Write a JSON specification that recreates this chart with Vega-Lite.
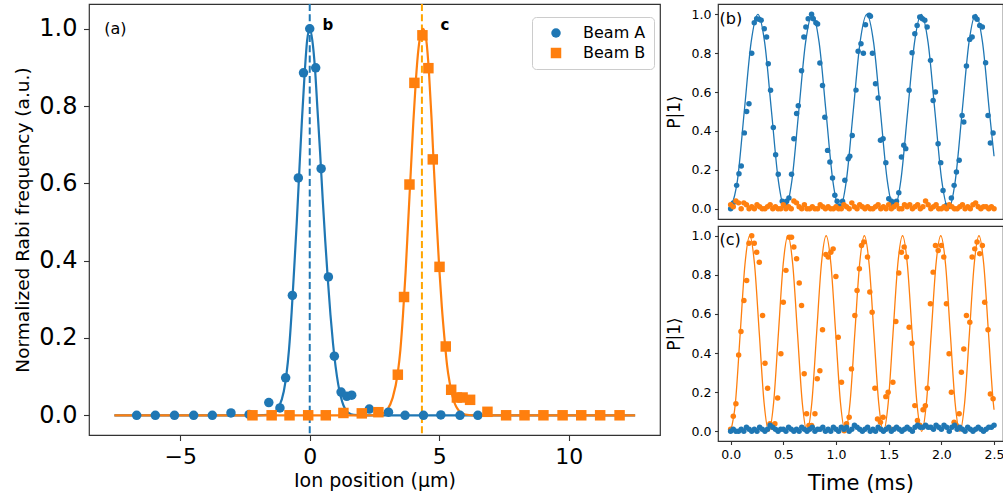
{
  "$schema": "https://vega.github.io/schema/vega-lite/v6.json",
  "padding": {"left": 13, "top": 2, "right": 0, "bottom": 0},
  "background": "white",
  "config": {
    "font": "DejaVu Sans",
    "view": {"stroke": "#333333", "strokeWidth": 1.2},
    "axis": {"grid": false, "domain": false, "tickColor": "#333333", "tickWidth": 1.1, "labelColor": "#000000", "titleColor": "#000000", "titleFontWeight": "normal", "labelFont": "DejaVu Sans", "titleFont": "DejaVu Sans"},
    "legend": {"labelFont": "DejaVu Sans"}
  },
  "datasets": {
    "aPts": [
      {"x": -6.68, "y": 0, "beam": "Beam A"}, {"x": -5.96, "y": 0, "beam": "Beam A"}, {"x": -5.22, "y": 0, "beam": "Beam A"},
      {"x": -4.48, "y": 0, "beam": "Beam A"}, {"x": -3.76, "y": 0, "beam": "Beam A"}, {"x": -3.04, "y": 0.006, "beam": "Beam A"},
      {"x": -2.34, "y": 0.002, "beam": "Beam A"}, {"x": -1.58, "y": 0.033, "beam": "Beam A"}, {"x": -1.15, "y": 0.019, "beam": "Beam A"},
      {"x": -0.93, "y": 0.097, "beam": "Beam A"}, {"x": -0.67, "y": 0.31, "beam": "Beam A"}, {"x": -0.44, "y": 0.614, "beam": "Beam A"},
      {"x": -0.24, "y": 0.886, "beam": "Beam A"}, {"x": 0.0, "y": 1.0, "beam": "Beam A"}, {"x": 0.23, "y": 0.899, "beam": "Beam A"},
      {"x": 0.44, "y": 0.638, "beam": "Beam A"}, {"x": 0.72, "y": 0.358, "beam": "Beam A"}, {"x": 0.95, "y": 0.153, "beam": "Beam A"},
      {"x": 1.21, "y": 0.06, "beam": "Beam A"}, {"x": 1.43, "y": 0.049, "beam": "Beam A"}, {"x": 1.62, "y": 0.052, "beam": "Beam A"},
      {"x": 2.3, "y": 0.016, "beam": "Beam A"}, {"x": 3.04, "y": 0.008, "beam": "Beam A"}, {"x": 3.68, "y": 0, "beam": "Beam A"},
      {"x": 4.39, "y": 0, "beam": "Beam A"}, {"x": 5.06, "y": 0.001, "beam": "Beam A"}, {"x": 5.8, "y": 0, "beam": "Beam A"},
      {"x": 6.49, "y": 0, "beam": "Beam A"},
      {"x": -2.21, "y": 0, "beam": "Beam B"}, {"x": -1.47, "y": 0, "beam": "Beam B"}, {"x": -0.78, "y": 0, "beam": "Beam B"},
      {"x": -0.06, "y": 0, "beam": "Beam B"}, {"x": 0.62, "y": 0, "beam": "Beam B"}, {"x": 1.3, "y": 0.006, "beam": "Beam B"},
      {"x": 2.01, "y": 0.005, "beam": "Beam B"}, {"x": 2.65, "y": 0.008, "beam": "Beam B"}, {"x": 3.4, "y": 0.105, "beam": "Beam B"},
      {"x": 3.64, "y": 0.306, "beam": "Beam B"}, {"x": 3.85, "y": 0.597, "beam": "Beam B"}, {"x": 4.04, "y": 0.86, "beam": "Beam B"},
      {"x": 4.35, "y": 0.983, "beam": "Beam B"}, {"x": 4.58, "y": 0.898, "beam": "Beam B"}, {"x": 4.75, "y": 0.662, "beam": "Beam B"},
      {"x": 5.01, "y": 0.384, "beam": "Beam B"}, {"x": 5.25, "y": 0.178, "beam": "Beam B"}, {"x": 5.46, "y": 0.066, "beam": "Beam B"},
      {"x": 5.68, "y": 0.046, "beam": "Beam B"}, {"x": 5.9, "y": 0.046, "beam": "Beam B"}, {"x": 6.19, "y": 0.04, "beam": "Beam B"},
      {"x": 6.86, "y": 0.009, "beam": "Beam B"}, {"x": 7.58, "y": 0, "beam": "Beam B"}, {"x": 8.29, "y": 0, "beam": "Beam B"},
      {"x": 9.02, "y": 0, "beam": "Beam B"}, {"x": 9.76, "y": 0, "beam": "Beam B"}, {"x": 10.48, "y": 0, "beam": "Beam B"},
      {"x": 11.21, "y": 0, "beam": "Beam B"}, {"x": 11.96, "y": 0, "beam": "Beam B"}
    ],
    "fitA": [
      {"x": -7.54, "y": 0}, {"x": -2.0, "y": 0}, {"x": -1.6, "y": 0.001}, {"x": -1.4, "y": 0.006}, {"x": -1.2, "y": 0.02},
      {"x": -1.0, "y": 0.062}, {"x": -0.9, "y": 0.105}, {"x": -0.8, "y": 0.17}, {"x": -0.7, "y": 0.265}, {"x": -0.6, "y": 0.38},
      {"x": -0.5, "y": 0.5}, {"x": -0.4, "y": 0.635}, {"x": -0.3, "y": 0.765}, {"x": -0.2, "y": 0.88}, {"x": -0.1, "y": 0.97},
      {"x": 0.0, "y": 1.0}, {"x": 0.1, "y": 0.97}, {"x": 0.2, "y": 0.9}, {"x": 0.3, "y": 0.79}, {"x": 0.4, "y": 0.68},
      {"x": 0.5, "y": 0.56}, {"x": 0.6, "y": 0.45}, {"x": 0.7, "y": 0.35}, {"x": 0.8, "y": 0.26}, {"x": 0.9, "y": 0.185},
      {"x": 1.0, "y": 0.125}, {"x": 1.1, "y": 0.08}, {"x": 1.2, "y": 0.048}, {"x": 1.3, "y": 0.026}, {"x": 1.4, "y": 0.013},
      {"x": 1.5, "y": 0.006}, {"x": 1.7, "y": 0.001}, {"x": 2.0, "y": 0}, {"x": 12.56, "y": 0}
    ],
    "fitB": [
      {"x": -7.54, "y": 0}, {"x": 2.6, "y": 0}, {"x": 2.8, "y": 0.004}, {"x": 3.0, "y": 0.015}, {"x": 3.2, "y": 0.045},
      {"x": 3.4, "y": 0.11}, {"x": 3.5, "y": 0.17}, {"x": 3.6, "y": 0.26}, {"x": 3.7, "y": 0.37}, {"x": 3.8, "y": 0.5},
      {"x": 3.9, "y": 0.63}, {"x": 4.0, "y": 0.76}, {"x": 4.1, "y": 0.87}, {"x": 4.2, "y": 0.95}, {"x": 4.3, "y": 0.99},
      {"x": 4.38, "y": 1.0}, {"x": 4.5, "y": 0.97}, {"x": 4.6, "y": 0.89}, {"x": 4.7, "y": 0.77}, {"x": 4.8, "y": 0.63},
      {"x": 4.9, "y": 0.5}, {"x": 5.0, "y": 0.38}, {"x": 5.1, "y": 0.28}, {"x": 5.2, "y": 0.2}, {"x": 5.3, "y": 0.13},
      {"x": 5.4, "y": 0.085}, {"x": 5.5, "y": 0.052}, {"x": 5.6, "y": 0.03}, {"x": 5.7, "y": 0.017}, {"x": 5.8, "y": 0.009},
      {"x": 6.0, "y": 0.002}, {"x": 6.3, "y": 0}, {"x": 12.56, "y": 0}
    ],
    "bFit": [
      {"t": 0, "p": 0}, {"t": 0.0646, "p": 0.146}, {"t": 0.1293, "p": 0.5}, {"t": 0.1939, "p": 0.854}, {"t": 0.2585, "p": 1},
      {"t": 0.3231, "p": 0.854}, {"t": 0.3878, "p": 0.5}, {"t": 0.4524, "p": 0.146}, {"t": 0.517, "p": 0},
      {"t": 0.5816, "p": 0.146}, {"t": 0.6463, "p": 0.5}, {"t": 0.7109, "p": 0.854}, {"t": 0.7755, "p": 1},
      {"t": 0.8401, "p": 0.854}, {"t": 0.9048, "p": 0.5}, {"t": 0.9694, "p": 0.146}, {"t": 1.034, "p": 0},
      {"t": 1.0986, "p": 0.146}, {"t": 1.1633, "p": 0.5}, {"t": 1.2279, "p": 0.854}, {"t": 1.2925, "p": 1},
      {"t": 1.3571, "p": 0.854}, {"t": 1.4218, "p": 0.5}, {"t": 1.4864, "p": 0.146}, {"t": 1.551, "p": 0},
      {"t": 1.6156, "p": 0.146}, {"t": 1.6803, "p": 0.5}, {"t": 1.7449, "p": 0.854}, {"t": 1.8095, "p": 1},
      {"t": 1.8741, "p": 0.854}, {"t": 1.9388, "p": 0.5}, {"t": 2.0034, "p": 0.146}, {"t": 2.068, "p": 0},
      {"t": 2.1326, "p": 0.146}, {"t": 2.1973, "p": 0.5}, {"t": 2.2619, "p": 0.854}, {"t": 2.3265, "p": 1},
      {"t": 2.3911, "p": 0.854}, {"t": 2.4558, "p": 0.5}, {"t": 2.5, "p": 0.27}
    ],
    "bData": [
      {"t": 0, "p": 0}, {"t": 0.025, "p": 0.03}, {"t": 0.057, "p": 0.12}, {"t": 0.079, "p": 0.18}, {"t": 0.101, "p": 0.22},
      {"t": 0.13, "p": 0.39}, {"t": 0.152, "p": 0.5}, {"t": 0.174, "p": 0.54}, {"t": 0.2, "p": 0.8}, {"t": 0.224, "p": 0.957},
      {"t": 0.247, "p": 0.977}, {"t": 0.27, "p": 0.975}, {"t": 0.29, "p": 0.97}, {"t": 0.319, "p": 0.926}, {"t": 0.341, "p": 0.883},
      {"t": 0.357, "p": 0.746}, {"t": 0.379, "p": 0.609}, {"t": 0.405, "p": 0.418}, {"t": 0.427, "p": 0.278}, {"t": 0.452, "p": 0.177},
      {"t": 0.49, "p": 0.038}, {"t": 0.509, "p": 0.026}, {"t": 0.531, "p": 0.038}, {"t": 0.553, "p": 0.055}, {"t": 0.578, "p": 0.177},
      {"t": 0.6, "p": 0.36}, {"t": 0.626, "p": 0.49}, {"t": 0.642, "p": 0.53}, {"t": 0.673, "p": 0.71}, {"t": 0.695, "p": 0.883},
      {"t": 0.714, "p": 0.935}, {"t": 0.736, "p": 0.977}, {"t": 0.768, "p": 1.0}, {"t": 0.784, "p": 0.977}, {"t": 0.809, "p": 0.957},
      {"t": 0.825, "p": 0.95}, {"t": 0.847, "p": 0.749}, {"t": 0.872, "p": 0.634}, {"t": 0.894, "p": 0.47}, {"t": 0.92, "p": 0.3},
      {"t": 0.942, "p": 0.24}, {"t": 0.967, "p": 0.158}, {"t": 0.989, "p": 0.069}, {"t": 1.011, "p": 0.038}, {"t": 1.037, "p": 0.014},
      {"t": 1.062, "p": 0.038}, {"t": 1.084, "p": 0.146}, {"t": 1.116, "p": 0.257}, {"t": 1.131, "p": 0.27}, {"t": 1.154, "p": 0.377},
      {"t": 1.19, "p": 0.61}, {"t": 1.21, "p": 0.81}, {"t": 1.237, "p": 0.849}, {"t": 1.26, "p": 0.8}, {"t": 1.28, "p": 0.946},
      {"t": 1.315, "p": 0.995}, {"t": 1.327, "p": 0.99}, {"t": 1.346, "p": 0.8}, {"t": 1.375, "p": 0.643}, {"t": 1.4, "p": 0.569},
      {"t": 1.422, "p": 0.352}, {"t": 1.447, "p": 0.36}, {"t": 1.473, "p": 0.237}, {"t": 1.501, "p": 0.051}, {"t": 1.527, "p": 0.038},
      {"t": 1.549, "p": 0.017}, {"t": 1.574, "p": 0.038}, {"t": 1.596, "p": 0.082}, {"t": 1.621, "p": 0.266}, {"t": 1.643, "p": 0.326},
      {"t": 1.662, "p": 0.309}, {"t": 1.694, "p": 0.609}, {"t": 1.722, "p": 0.802}, {"t": 1.748, "p": 0.9}, {"t": 1.77, "p": 0.943},
      {"t": 1.795, "p": 0.986}, {"t": 1.82, "p": 0.977}, {"t": 1.843, "p": 0.969}, {"t": 1.865, "p": 0.935}, {"t": 1.897, "p": 0.763},
      {"t": 1.922, "p": 0.557}, {"t": 1.944, "p": 0.6}, {"t": 1.969, "p": 0.334}, {"t": 1.994, "p": 0.237}, {"t": 2.016, "p": 0.094},
      {"t": 2.048, "p": 0.017}, {"t": 2.073, "p": 0.014}, {"t": 2.095, "p": 0.055}, {"t": 2.121, "p": 0.12}, {"t": 2.143, "p": 0.189},
      {"t": 2.169, "p": 0.249}, {"t": 2.197, "p": 0.48}, {"t": 2.213, "p": 0.446}, {"t": 2.238, "p": 0.734}, {"t": 2.269, "p": 0.871},
      {"t": 2.292, "p": 0.883}, {"t": 2.317, "p": 0.986}, {"t": 2.339, "p": 0.974}, {"t": 2.364, "p": 0.943}, {"t": 2.389, "p": 0.935},
      {"t": 2.42, "p": 0.751}, {"t": 2.443, "p": 0.48}, {"t": 2.465, "p": 0.338}, {"t": 2.491, "p": 0.389}
    ],
    "bNoise": [
      {"t": 0, "p": 0.02}, {"t": 0.025, "p": 0.01}, {"t": 0.05, "p": 0.04}, {"t": 0.075, "p": 0.03}, {"t": 0.1, "p": 0.0},
      {"t": 0.125, "p": 0.03}, {"t": 0.15, "p": 0.02}, {"t": 0.175, "p": 0.0}, {"t": 0.2, "p": 0.01}, {"t": 0.225, "p": 0.0},
      {"t": 0.25, "p": 0.02}, {"t": 0.275, "p": 0.01}, {"t": 0.3, "p": 0.0}, {"t": 0.325, "p": 0.0}, {"t": 0.35, "p": 0.01},
      {"t": 0.375, "p": 0.02}, {"t": 0.4, "p": 0.0}, {"t": 0.425, "p": 0.01}, {"t": 0.45, "p": 0.0}, {"t": 0.475, "p": 0.0},
      {"t": 0.5, "p": 0.02}, {"t": 0.525, "p": 0.0}, {"t": 0.55, "p": 0.01}, {"t": 0.575, "p": 0.0}, {"t": 0.6, "p": 0.04},
      {"t": 0.625, "p": 0.03}, {"t": 0.65, "p": 0.01}, {"t": 0.675, "p": 0.0}, {"t": 0.7, "p": 0.02}, {"t": 0.725, "p": 0.0},
      {"t": 0.75, "p": 0.0}, {"t": 0.775, "p": 0.01}, {"t": 0.8, "p": 0.0}, {"t": 0.825, "p": 0.0}, {"t": 0.85, "p": 0.02},
      {"t": 0.875, "p": 0.01}, {"t": 0.9, "p": 0.0}, {"t": 0.925, "p": 0.01}, {"t": 0.95, "p": 0.0}, {"t": 0.975, "p": 0.0},
      {"t": 1.0, "p": 0.01}, {"t": 1.025, "p": 0.0}, {"t": 1.05, "p": 0.0}, {"t": 1.075, "p": 0.02}, {"t": 1.1, "p": 0.01},
      {"t": 1.125, "p": 0.0}, {"t": 1.15, "p": 0.03}, {"t": 1.175, "p": 0.01}, {"t": 1.2, "p": 0.0}, {"t": 1.225, "p": 0.02},
      {"t": 1.25, "p": 0.01}, {"t": 1.275, "p": 0.0}, {"t": 1.3, "p": 0.01}, {"t": 1.325, "p": 0.0}, {"t": 1.35, "p": 0.0},
      {"t": 1.375, "p": 0.01}, {"t": 1.4, "p": 0.02}, {"t": 1.425, "p": 0.0}, {"t": 1.45, "p": 0.01}, {"t": 1.475, "p": 0.0},
      {"t": 1.5, "p": 0.02}, {"t": 1.525, "p": 0.0}, {"t": 1.55, "p": 0.01}, {"t": 1.575, "p": 0.02}, {"t": 1.6, "p": 0.0},
      {"t": 1.625, "p": 0.0}, {"t": 1.65, "p": 0.02}, {"t": 1.675, "p": 0.01}, {"t": 1.7, "p": 0.02}, {"t": 1.725, "p": 0.0},
      {"t": 1.75, "p": 0.01}, {"t": 1.775, "p": 0.02}, {"t": 1.8, "p": 0.0}, {"t": 1.825, "p": 0.01}, {"t": 1.85, "p": 0.04},
      {"t": 1.875, "p": 0.02}, {"t": 1.9, "p": 0.0}, {"t": 1.925, "p": 0.01}, {"t": 1.95, "p": 0.02}, {"t": 1.975, "p": 0.0},
      {"t": 2.0, "p": 0.0}, {"t": 2.025, "p": 0.01}, {"t": 2.05, "p": 0.0}, {"t": 2.075, "p": 0.02}, {"t": 2.1, "p": 0.01},
      {"t": 2.125, "p": 0.0}, {"t": 2.15, "p": 0.0}, {"t": 2.175, "p": 0.01}, {"t": 2.2, "p": 0.02}, {"t": 2.225, "p": 0.0},
      {"t": 2.25, "p": 0.01}, {"t": 2.275, "p": 0.0}, {"t": 2.3, "p": 0.02}, {"t": 2.325, "p": 0.03}, {"t": 2.35, "p": 0.01},
      {"t": 2.375, "p": 0.0}, {"t": 2.4, "p": 0.01}, {"t": 2.425, "p": 0.01}, {"t": 2.45, "p": 0.0}, {"t": 2.475, "p": 0.01},
      {"t": 2.5, "p": 0.0}
    ],
    "cFit": [
      {"t": 0, "p": 0}, {"t": 0.0453, "p": 0.146}, {"t": 0.0907, "p": 0.5}, {"t": 0.136, "p": 0.854}, {"t": 0.1813, "p": 1},
      {"t": 0.2266, "p": 0.854}, {"t": 0.272, "p": 0.5}, {"t": 0.3173, "p": 0.146}, {"t": 0.3626, "p": 0},
      {"t": 0.4079, "p": 0.146}, {"t": 0.4533, "p": 0.5}, {"t": 0.4986, "p": 0.854}, {"t": 0.5439, "p": 1},
      {"t": 0.5892, "p": 0.854}, {"t": 0.6346, "p": 0.5}, {"t": 0.6799, "p": 0.146}, {"t": 0.7252, "p": 0},
      {"t": 0.7705, "p": 0.146}, {"t": 0.8159, "p": 0.5}, {"t": 0.8612, "p": 0.854}, {"t": 0.9065, "p": 1},
      {"t": 0.9518, "p": 0.854}, {"t": 0.9972, "p": 0.5}, {"t": 1.0425, "p": 0.146}, {"t": 1.0878, "p": 0},
      {"t": 1.1331, "p": 0.146}, {"t": 1.1785, "p": 0.5}, {"t": 1.2238, "p": 0.854}, {"t": 1.2691, "p": 1},
      {"t": 1.3144, "p": 0.854}, {"t": 1.3598, "p": 0.5}, {"t": 1.4051, "p": 0.146}, {"t": 1.4504, "p": 0},
      {"t": 1.4957, "p": 0.146}, {"t": 1.5411, "p": 0.5}, {"t": 1.5864, "p": 0.854}, {"t": 1.6317, "p": 1},
      {"t": 1.677, "p": 0.854}, {"t": 1.7224, "p": 0.5}, {"t": 1.7677, "p": 0.146}, {"t": 1.813, "p": 0},
      {"t": 1.8583, "p": 0.146}, {"t": 1.9037, "p": 0.5}, {"t": 1.949, "p": 0.854}, {"t": 1.9943, "p": 1},
      {"t": 2.0396, "p": 0.854}, {"t": 2.085, "p": 0.5}, {"t": 2.1303, "p": 0.146}, {"t": 2.1756, "p": 0},
      {"t": 2.2209, "p": 0.146}, {"t": 2.2663, "p": 0.5}, {"t": 2.3116, "p": 0.854}, {"t": 2.3569, "p": 1},
      {"t": 2.4022, "p": 0.854}, {"t": 2.4476, "p": 0.5}, {"t": 2.4929, "p": 0.146}, {"t": 2.5, "p": 0.11}
    ],
    "cData": [
      {"t": 0, "p": 0.01}, {"t": 0.025, "p": 0.077}, {"t": 0.05, "p": 0.14}, {"t": 0.076, "p": 0.39}, {"t": 0.098, "p": 0.51},
      {"t": 0.126, "p": 0.669}, {"t": 0.152, "p": 0.771}, {"t": 0.174, "p": 0.962}, {"t": 0.2, "p": 1.0}, {"t": 0.224, "p": 0.962},
      {"t": 0.247, "p": 0.916}, {"t": 0.272, "p": 0.865}, {"t": 0.303, "p": 0.592}, {"t": 0.326, "p": 0.348}, {"t": 0.351, "p": 0.22},
      {"t": 0.373, "p": 0.038}, {"t": 0.395, "p": 0.02}, {"t": 0.42, "p": 0.038}, {"t": 0.446, "p": 0.17}, {"t": 0.477, "p": 0.396},
      {"t": 0.5, "p": 0.66}, {"t": 0.525, "p": 0.823}, {"t": 0.556, "p": 0.993}, {"t": 0.578, "p": 0.993}, {"t": 0.6, "p": 0.942},
      {"t": 0.626, "p": 0.882}, {"t": 0.651, "p": 0.758}, {"t": 0.673, "p": 0.643}, {"t": 0.698, "p": 0.294}, {"t": 0.721, "p": 0.089},
      {"t": 0.743, "p": 0.029}, {"t": 0.768, "p": 0.029}, {"t": 0.8, "p": 0.089}, {"t": 0.822, "p": 0.268}, {"t": 0.847, "p": 0.31},
      {"t": 0.872, "p": 0.519}, {"t": 0.904, "p": 0.904}, {"t": 0.926, "p": 0.891}, {"t": 0.951, "p": 0.916}, {"t": 0.973, "p": 0.933},
      {"t": 0.999, "p": 0.792}, {"t": 1.021, "p": 0.481}, {"t": 1.052, "p": 0.251}, {"t": 1.078, "p": 0.003}, {"t": 1.1, "p": 0.038},
      {"t": 1.125, "p": 0.072}, {"t": 1.147, "p": 0.319}, {"t": 1.179, "p": 0.592}, {"t": 1.2, "p": 0.72}, {"t": 1.222, "p": 0.831},
      {"t": 1.242, "p": 0.95}, {"t": 1.264, "p": 0.968}, {"t": 1.299, "p": 0.891}, {"t": 1.321, "p": 0.712}, {"t": 1.343, "p": 0.609},
      {"t": 1.369, "p": 0.22}, {"t": 1.394, "p": 0.063}, {"t": 1.422, "p": 0.046}, {"t": 1.447, "p": 0.072}, {"t": 1.473, "p": 0.177},
      {"t": 1.495, "p": 0.2}, {"t": 1.52, "p": 0.01}, {"t": 1.54, "p": 0.25}, {"t": 1.568, "p": 0.561}, {"t": 1.596, "p": 0.809},
      {"t": 1.621, "p": 0.916}, {"t": 1.647, "p": 0.942}, {"t": 1.669, "p": 0.891}, {"t": 1.694, "p": 0.532}, {"t": 1.722, "p": 0.45},
      {"t": 1.748, "p": 0.131}, {"t": 1.773, "p": 0.055}, {"t": 1.795, "p": 0.03}, {"t": 1.826, "p": 0.11}, {"t": 1.848, "p": 0.13},
      {"t": 1.867, "p": 0.22}, {"t": 1.896, "p": 0.652}, {"t": 1.922, "p": 0.814}, {"t": 1.944, "p": 0.95}, {"t": 1.97, "p": 0.925},
      {"t": 2.0, "p": 0.95}, {"t": 2.023, "p": 0.891}, {"t": 2.048, "p": 0.652}, {"t": 2.073, "p": 0.396}, {"t": 2.095, "p": 0.2},
      {"t": 2.121, "p": 0.046}, {"t": 2.143, "p": 0.029}, {"t": 2.169, "p": 0.089}, {"t": 2.19, "p": 0.302}, {"t": 2.213, "p": 0.421},
      {"t": 2.238, "p": 0.592}, {"t": 2.27, "p": 0.558}, {"t": 2.292, "p": 0.891}, {"t": 2.317, "p": 0.933}, {"t": 2.339, "p": 0.968},
      {"t": 2.364, "p": 0.908}, {"t": 2.389, "p": 0.95}, {"t": 2.411, "p": 0.66}, {"t": 2.443, "p": 0.519}, {"t": 2.465, "p": 0.191},
      {"t": 2.491, "p": 0.166}
    ],
    "cNoise": [
      {"t": 0, "p": 0.0}, {"t": 0.025, "p": 0.01}, {"t": 0.05, "p": 0.0}, {"t": 0.075, "p": 0.0}, {"t": 0.1, "p": 0.01},
      {"t": 0.125, "p": 0.0}, {"t": 0.15, "p": 0.02}, {"t": 0.175, "p": 0.01}, {"t": 0.2, "p": 0.0}, {"t": 0.225, "p": 0.01},
      {"t": 0.25, "p": 0.0}, {"t": 0.275, "p": 0.02}, {"t": 0.3, "p": 0.01}, {"t": 0.325, "p": 0.0}, {"t": 0.35, "p": 0.01},
      {"t": 0.375, "p": 0.03}, {"t": 0.4, "p": 0.02}, {"t": 0.425, "p": 0.01}, {"t": 0.45, "p": 0.0}, {"t": 0.475, "p": 0.01},
      {"t": 0.5, "p": 0.01}, {"t": 0.525, "p": 0.0}, {"t": 0.55, "p": 0.02}, {"t": 0.575, "p": 0.01}, {"t": 0.6, "p": 0.0},
      {"t": 0.625, "p": 0.01}, {"t": 0.65, "p": 0.0}, {"t": 0.675, "p": 0.02}, {"t": 0.7, "p": 0.01}, {"t": 0.725, "p": 0.0},
      {"t": 0.75, "p": 0.01}, {"t": 0.775, "p": 0.02}, {"t": 0.8, "p": 0.0}, {"t": 0.825, "p": 0.01}, {"t": 0.85, "p": 0.01},
      {"t": 0.875, "p": 0.02}, {"t": 0.9, "p": 0.0}, {"t": 0.925, "p": 0.01}, {"t": 0.95, "p": 0.0}, {"t": 0.975, "p": 0.02},
      {"t": 1.0, "p": 0.01}, {"t": 1.025, "p": 0.0}, {"t": 1.05, "p": 0.02}, {"t": 1.075, "p": 0.01}, {"t": 1.1, "p": 0.02},
      {"t": 1.125, "p": 0.0}, {"t": 1.15, "p": 0.01}, {"t": 1.175, "p": 0.03}, {"t": 1.2, "p": 0.02}, {"t": 1.225, "p": 0.01},
      {"t": 1.25, "p": 0.0}, {"t": 1.275, "p": 0.01}, {"t": 1.3, "p": 0.02}, {"t": 1.325, "p": 0.0}, {"t": 1.35, "p": 0.01},
      {"t": 1.375, "p": 0.0}, {"t": 1.4, "p": 0.02}, {"t": 1.425, "p": 0.01}, {"t": 1.45, "p": 0.0}, {"t": 1.475, "p": 0.01},
      {"t": 1.5, "p": 0.02}, {"t": 1.525, "p": 0.0}, {"t": 1.55, "p": 0.01}, {"t": 1.575, "p": 0.02}, {"t": 1.6, "p": 0.01},
      {"t": 1.625, "p": 0.0}, {"t": 1.65, "p": 0.01}, {"t": 1.675, "p": 0.02}, {"t": 1.7, "p": 0.01}, {"t": 1.725, "p": 0.0},
      {"t": 1.75, "p": 0.02}, {"t": 1.775, "p": 0.03}, {"t": 1.8, "p": 0.02}, {"t": 1.825, "p": 0.02}, {"t": 1.85, "p": 0.03},
      {"t": 1.875, "p": 0.02}, {"t": 1.9, "p": 0.02}, {"t": 1.925, "p": 0.01}, {"t": 1.95, "p": 0.03}, {"t": 1.975, "p": 0.02},
      {"t": 2.0, "p": 0.01}, {"t": 2.025, "p": 0.03}, {"t": 2.05, "p": 0.02}, {"t": 2.075, "p": 0.0}, {"t": 2.1, "p": 0.02},
      {"t": 2.125, "p": 0.03}, {"t": 2.15, "p": 0.01}, {"t": 2.175, "p": 0.02}, {"t": 2.2, "p": 0.01}, {"t": 2.225, "p": 0.0},
      {"t": 2.25, "p": 0.02}, {"t": 2.275, "p": 0.01}, {"t": 2.3, "p": 0.0}, {"t": 2.325, "p": 0.01}, {"t": 2.35, "p": 0.02},
      {"t": 2.375, "p": 0.01}, {"t": 2.4, "p": 0.0}, {"t": 2.425, "p": 0.01}, {"t": 2.45, "p": 0.02}, {"t": 2.475, "p": 0.02},
      {"t": 2.5, "p": 0.03}
    ]
  },
  "bounds": "flush",
  "spacing": 58,
  "hconcat": [
    {
      "width": 571,
      "height": 431,
      "layer": [
        {
          "data": {"values": [{"x": 0}]},
          "mark": {"type": "rule", "color": "#1f77b4", "strokeWidth": 2, "strokeDash": [7, 3.3]},
          "encoding": {
            "x": {"field": "x", "type": "quantitative", "scale": {"domain": [-8.52, 13.52], "nice": false, "zero": false},
              "axis": {"values": [-5, 0, 5, 10], "format": "d", "title": "Ion position (μm)", "labelFontSize": 22, "titleFontSize": 19, "tickSize": 5.5, "labelPadding": 6, "titlePadding": 4}}
          }
        },
        {
          "data": {"values": [{"x": 4.33}]},
          "mark": {"type": "rule", "color": "#ffa500", "strokeWidth": 2, "strokeDash": [7, 3.3]},
          "encoding": {"x": {"field": "x", "type": "quantitative", "scale": {"domain": [-8.52, 13.52], "nice": false, "zero": false}}}
        },
        {
          "data": {"name": "fitA"},
          "mark": {"type": "line", "color": "#1f77b4", "strokeWidth": 2.2, "interpolate": "monotone"},
          "encoding": {
            "x": {"field": "x", "type": "quantitative", "scale": {"domain": [-8.52, 13.52], "nice": false, "zero": false}},
            "y": {"field": "y", "type": "quantitative", "scale": {"domain": [-0.051, 1.064], "nice": false, "zero": false},
              "axis": {"values": [0, 0.2, 0.4, 0.6, 0.8, 1.0], "format": ".1f", "title": "Normalized Rabi frequency (a.u.)", "labelFontSize": 24, "titleFontSize": 18.5, "tickSize": 5.5, "labelPadding": 6.5, "titlePadding": 6}}
          }
        },
        {
          "data": {"name": "fitB"},
          "mark": {"type": "line", "color": "#ff7f0e", "strokeWidth": 2.2, "interpolate": "monotone"},
          "encoding": {
            "x": {"field": "x", "type": "quantitative", "scale": {"domain": [-8.52, 13.52], "nice": false, "zero": false}},
            "y": {"field": "y", "type": "quantitative", "scale": {"domain": [-0.051, 1.064], "nice": false, "zero": false}}
          }
        },
        {
          "data": {"name": "aPts"},
          "mark": {"type": "point", "filled": true, "opacity": 1},
          "encoding": {
            "x": {"field": "x", "type": "quantitative", "scale": {"domain": [-8.52, 13.52], "nice": false, "zero": false}},
            "y": {"field": "y", "type": "quantitative", "scale": {"domain": [-0.051, 1.064], "nice": false, "zero": false}},
            "color": {"field": "beam", "type": "nominal", "scale": {"domain": ["Beam A", "Beam B"], "range": ["#1f77b4", "#ff7f0e"]},
              "legend": {"title": null, "orient": "none", "legendX": 443, "legendY": 13, "labelFontSize": 16, "symbolSize": 95, "padding": 8, "strokeColor": "#cccccc", "fillColor": "white", "cornerRadius": 4, "rowPadding": 4, "labelOffset": 19, "symbolOffset": 8, "symbolStrokeWidth": 0}},
            "shape": {"field": "beam", "type": "nominal", "scale": {"domain": ["Beam A", "Beam B"], "range": ["circle", "square"]},
              "legend": {"title": null, "orient": "none", "legendX": 443, "legendY": 13, "labelFontSize": 16, "symbolSize": 95, "padding": 8, "strokeColor": "#cccccc", "fillColor": "white", "cornerRadius": 4, "rowPadding": 4, "labelOffset": 19, "symbolOffset": 8, "symbolStrokeWidth": 0}},
            "size": {"field": "beam", "type": "nominal", "scale": {"domain": ["Beam A", "Beam B"], "range": [90, 110]}, "legend": null}
          }
        },
        {
          "data": {"values": [{"x": -7.93, "y": 1.0, "t": "(a)"}]},
          "mark": {"type": "text", "align": "left", "baseline": "middle", "fontSize": 16, "color": "black"},
          "encoding": {
            "x": {"field": "x", "type": "quantitative", "scale": {"domain": [-8.52, 13.52], "nice": false, "zero": false}},
            "y": {"field": "y", "type": "quantitative", "scale": {"domain": [-0.051, 1.064], "nice": false, "zero": false}},
            "text": {"field": "t"}
          }
        },
        {
          "data": {"values": [{"x": 0.49, "y": 1.01, "t": "b"}, {"x": 5.05, "y": 1.01, "t": "c"}]},
          "mark": {"type": "text", "align": "left", "baseline": "middle", "fontSize": 15, "fontWeight": "bold", "color": "black"},
          "encoding": {
            "x": {"field": "x", "type": "quantitative", "scale": {"domain": [-8.52, 13.52], "nice": false, "zero": false}},
            "y": {"field": "y", "type": "quantitative", "scale": {"domain": [-0.051, 1.064], "nice": false, "zero": false}},
            "text": {"field": "t"}
          }
        }
      ]
    },
    {
      "bounds": "flush",
      "spacing": 7,
      "vconcat": [
        {
          "width": 285,
          "height": 215,
          "layer": [
            {
              "data": {"name": "bFit"},
              "mark": {"type": "line", "color": "#1f77b4", "strokeWidth": 1.3, "interpolate": "monotone"},
              "encoding": {
                "x": {"field": "t", "type": "quantitative", "scale": {"domain": [-0.12, 2.585], "nice": false, "zero": false}, "axis": null},
                "y": {"field": "p", "type": "quantitative", "scale": {"domain": [-0.053, 1.053], "nice": false, "zero": false},
                  "axis": {"values": [0, 0.2, 0.4, 0.6, 0.8, 1.0], "format": ".1f", "title": "P|1⟩", "labelFontSize": 12.5, "titleFontSize": 17, "tickSize": 3.5, "labelPadding": 3.5, "titlePadding": 8}}
              }
            },
            {
              "data": {"name": "bData"},
              "mark": {"type": "circle", "color": "#1f77b4", "size": 30, "opacity": 1},
              "encoding": {
                "x": {"field": "t", "type": "quantitative", "scale": {"domain": [-0.12, 2.585], "nice": false, "zero": false}},
                "y": {"field": "p", "type": "quantitative", "scale": {"domain": [-0.053, 1.053], "nice": false, "zero": false}}
              }
            },
            {
              "data": {"name": "bNoise"},
              "mark": {"type": "circle", "color": "#ff7f0e", "size": 30, "opacity": 1},
              "encoding": {
                "x": {"field": "t", "type": "quantitative", "scale": {"domain": [-0.12, 2.585], "nice": false, "zero": false}},
                "y": {"field": "p", "type": "quantitative", "scale": {"domain": [-0.053, 1.053], "nice": false, "zero": false}}
              }
            },
            {
              "data": {"values": [{"t": -0.105, "p": 0.975, "s": "(b)"}]},
              "mark": {"type": "text", "align": "left", "baseline": "middle", "fontSize": 16, "color": "black"},
              "encoding": {
                "x": {"field": "t", "type": "quantitative", "scale": {"domain": [-0.12, 2.585], "nice": false, "zero": false}},
                "y": {"field": "p", "type": "quantitative", "scale": {"domain": [-0.053, 1.053], "nice": false, "zero": false}},
                "text": {"field": "s"}
              }
            }
          ]
        },
        {
          "width": 285,
          "height": 215,
          "layer": [
            {
              "data": {"name": "cFit"},
              "mark": {"type": "line", "color": "#ff7f0e", "strokeWidth": 1.3, "interpolate": "monotone"},
              "encoding": {
                "x": {"field": "t", "type": "quantitative", "scale": {"domain": [-0.12, 2.585], "nice": false, "zero": false},
                  "axis": {"values": [0, 0.5, 1.0, 1.5, 2.0, 2.5], "format": ".1f", "title": "Time (ms)", "labelFontSize": 12.5, "titleFontSize": 21, "tickSize": 3.5, "labelPadding": 3.5, "titlePadding": 12}},
                "y": {"field": "p", "type": "quantitative", "scale": {"domain": [-0.05, 1.05], "nice": false, "zero": false},
                  "axis": {"values": [0, 0.2, 0.4, 0.6, 0.8, 1.0], "format": ".1f", "title": "P|1⟩", "labelFontSize": 12.5, "titleFontSize": 17, "tickSize": 3.5, "labelPadding": 3.5, "titlePadding": 8}}
              }
            },
            {
              "data": {"name": "cData"},
              "mark": {"type": "circle", "color": "#ff7f0e", "size": 30, "opacity": 1},
              "encoding": {
                "x": {"field": "t", "type": "quantitative", "scale": {"domain": [-0.12, 2.585], "nice": false, "zero": false}},
                "y": {"field": "p", "type": "quantitative", "scale": {"domain": [-0.05, 1.05], "nice": false, "zero": false}}
              }
            },
            {
              "data": {"name": "cNoise"},
              "mark": {"type": "circle", "color": "#1f77b4", "size": 30, "opacity": 1},
              "encoding": {
                "x": {"field": "t", "type": "quantitative", "scale": {"domain": [-0.12, 2.585], "nice": false, "zero": false}},
                "y": {"field": "p", "type": "quantitative", "scale": {"domain": [-0.05, 1.05], "nice": false, "zero": false}}
              }
            },
            {
              "data": {"values": [{"t": -0.105, "p": 0.976, "s": "(c)"}]},
              "mark": {"type": "text", "align": "left", "baseline": "middle", "fontSize": 16, "color": "black"},
              "encoding": {
                "x": {"field": "t", "type": "quantitative", "scale": {"domain": [-0.12, 2.585], "nice": false, "zero": false}},
                "y": {"field": "p", "type": "quantitative", "scale": {"domain": [-0.05, 1.05], "nice": false, "zero": false}},
                "text": {"field": "s"}
              }
            }
          ]
        }
      ]
    }
  ]
}
